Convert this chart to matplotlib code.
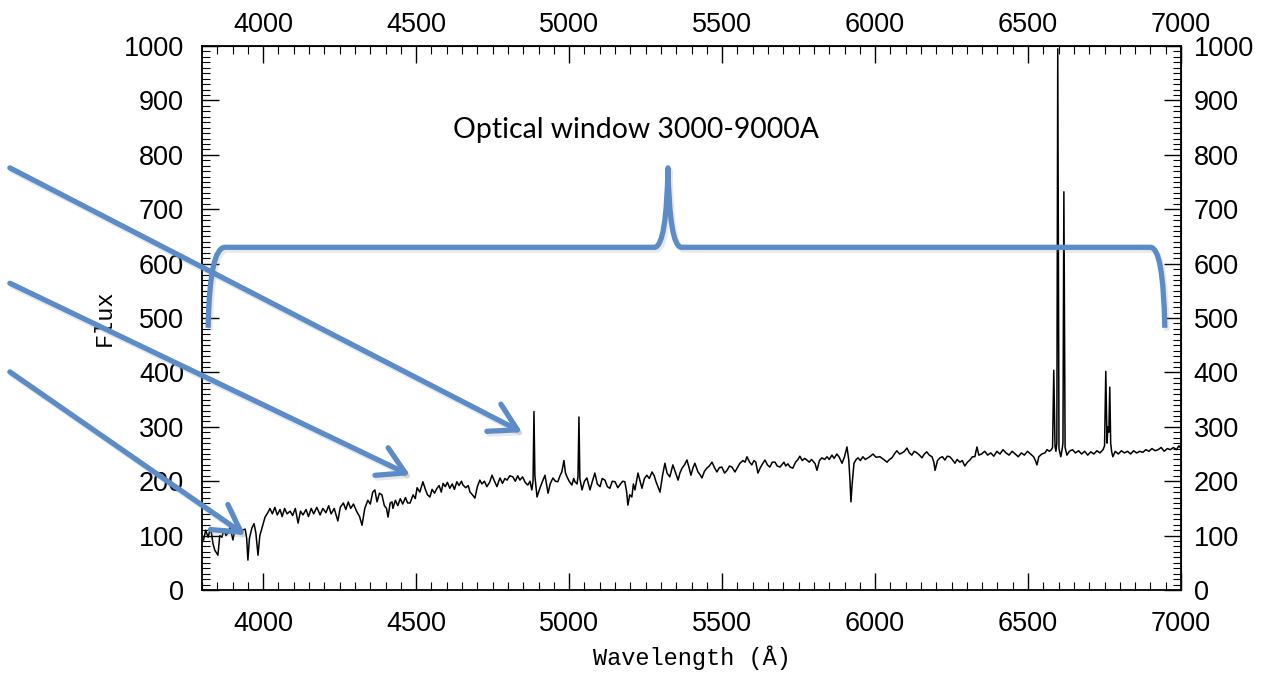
import matplotlib
matplotlib.use("Agg")
import matplotlib.pyplot as plt
import matplotlib.patheffects as pe
from matplotlib.path import Path
from matplotlib.patches import PathPatch
from matplotlib.ticker import FixedLocator, MultipleLocator
import numpy as np

plt.rcParams["font.family"] = "Liberation Sans"
plt.rcParams["font.size"] = 19.5

# spectrum in segments (wavelength in A, flux)
wl_blue = [3805, 3812, 3820, 3828, 3836, 3842, 3852, 3858, 3865, 3872, 3878, 3885, 3892, 3901, 3907,
           3914, 3922, 3931, 3941, 3946, 3950, 3955, 3963, 3970, 3976, 3983, 3989, 3996, 4006, 4016]
flux_blue = [92, 110, 97, 115, 85, 73, 64, 100, 97, 112, 100, 105, 115, 92, 110,
             105, 118, 110, 112, 95, 55, 95, 114, 122, 105, 64, 100, 114, 134, 143]

wl_4000 = [4022, 4030, 4038, 4046, 4055, 4062, 4070, 4078, 4088, 4096, 4105, 4114, 4122, 4130, 4140,
           4148, 4157, 4165, 4175, 4186, 4195, 4205, 4214, 4222, 4232, 4244, 4252, 4262, 4270, 4278,
           4286, 4295, 4305, 4315, 4323, 4332, 4342, 4350, 4358, 4365, 4372, 4380, 4388, 4396, 4403,
           4408, 4415, 4421]
flux_4000 = [150, 140, 152, 138, 148, 135, 150, 140, 145, 137, 150, 123, 145, 138, 148,
             135, 150, 140, 152, 138, 150, 142, 155, 140, 150, 127, 152, 160, 148, 162,
             150, 158, 145, 135, 119, 150, 165, 158, 180, 184, 162, 178, 175, 155, 150,
             134, 160, 162]

wl_4500 = [4424, 4432, 4440, 4448, 4456, 4465, 4472, 4480, 4490, 4497, 4503, 4512, 4522, 4530, 4537,
           4545, 4552, 4560, 4568, 4575, 4582, 4588, 4595, 4602, 4610, 4618, 4625, 4633, 4640, 4648,
           4653, 4662, 4670, 4676, 4684, 4692, 4700, 4708, 4715, 4723, 4731, 4740, 4748, 4756, 4764,
           4770, 4774, 4782, 4790, 4797, 4806, 4816, 4824, 4832, 4839, 4848, 4856, 4865, 4872, 4878,
           4882, 4885, 4888, 4895, 4900, 4905, 4913, 4921, 4926, 4931, 4938, 4947, 4955, 4963, 4970,
           4976, 4983, 4988, 4993, 5000, 5009, 5015, 5019, 5026, 5029, 5032, 5035, 5042, 5050, 5058]
flux_4500 = [150, 165, 155, 168, 158, 170, 160, 160, 175, 168, 188, 180, 199, 185, 175,
             171, 185, 178, 187, 192, 180, 196, 190, 198, 187, 195, 185, 199, 192, 200,
             193, 188, 192, 180, 175, 169, 190, 202, 195, 200, 190, 198, 211, 200, 190,
             200, 206, 196, 205, 202, 210, 208, 200, 210, 202, 208, 198, 193, 200, 184,
             200, 328, 210, 171, 180, 188, 200, 211, 195, 178, 195, 206, 200, 199, 210,
             217, 238, 215, 208, 200, 193, 205, 199, 195, 210, 318, 205, 184, 200, 206]

wl_5000 = [5068, 5076, 5084, 5092, 5101, 5108, 5117, 5125, 5133, 5141, 5150, 5159, 5168, 5175, 5182,
           5188, 5192, 5198, 5205, 5210, 5215, 5225, 5232, 5238, 5246, 5254, 5262, 5271, 5278, 5284,
           5290, 5297, 5305, 5313, 5320, 5329, 5339, 5348, 5356, 5362, 5369, 5377, 5385, 5392, 5398,
           5405, 5411, 5421, 5428, 5434, 5442, 5450, 5458, 5467, 5475, 5483, 5491, 5499, 5508, 5516,
           5524, 5532, 5542, 5550, 5558, 5568, 5575, 5581, 5590, 5597, 5604, 5610, 5617, 5625, 5632,
           5640, 5648, 5656, 5664, 5673, 5680, 5689, 5695, 5702]
flux_5000 = [184, 200, 215, 195, 190, 205, 202, 190, 187, 200, 199, 188, 195, 200, 199,
             180, 156, 175, 171, 195, 184, 215, 200, 187, 205, 211, 205, 217, 210, 199,
             190, 180, 210, 233, 215, 208, 230, 215, 202, 215, 224, 230, 239, 225, 211,
             225, 233, 217, 212, 206, 218, 224, 228, 235, 225, 217, 225, 226, 215, 220,
             228, 226, 217, 225, 233, 238, 235, 245, 235, 230, 238, 235, 215, 225, 232,
             239, 230, 226, 235, 235, 228, 226, 230, 235]

wl_6000 = [5708, 5715, 5722, 5731, 5740, 5748, 5754, 5762, 5770, 5777, 5785, 5792, 5797, 5804, 5810,
           5818, 5826, 5835, 5843, 5850, 5859, 5866, 5875, 5882, 5892, 5900, 5908, 5914, 5918, 5921,
           5925, 5931, 5938, 5944, 5952, 5960, 5968, 5977, 5985, 5993, 6003, 6016, 6028, 6039, 6047,
           6055, 6063, 6071, 6080, 6088, 6096, 6104, 6112, 6120, 6128, 6137, 6145, 6153, 6161, 6169,
           6177, 6186, 6192, 6196, 6204, 6212, 6220, 6228, 6236, 6244, 6252, 6261, 6268, 6277, 6285,
           6293, 6302, 6310, 6318, 6326, 6333, 6339]
flux_6000 = [228, 232, 226, 224, 235, 240, 246, 238, 242, 239, 235, 240, 237, 232, 220,
             238, 243, 240, 245, 240, 248, 242, 250, 245, 233, 245, 263, 239, 200, 162,
             195, 233, 240, 243, 238, 245, 240, 243, 246, 250, 244, 245, 240, 235, 240,
             243, 250, 256, 250, 252, 255, 261, 252, 248, 255, 252, 248, 243, 250, 254,
             248, 245, 235, 220, 238, 243, 245, 239, 246, 245, 240, 233, 240, 235, 238,
             228, 235, 239, 245, 245, 263, 248]

wl_red = [6348, 6358, 6368, 6378, 6388, 6398, 6408, 6418, 6428, 6438, 6448, 6458, 6468, 6478, 6488,
          6498, 6508, 6518, 6524, 6529, 6535, 6545, 6555, 6562, 6570, 6576, 6580, 6584, 6588, 6591,
          6594, 6597, 6601, 6607, 6611, 6614, 6617, 6621, 6627, 6635, 6645, 6655, 6665, 6675, 6685,
          6695, 6705, 6715, 6725, 6735, 6745, 6750, 6754, 6758, 6761, 6764, 6767, 6770, 6773, 6777,
          6785, 6795, 6805, 6815, 6825, 6835, 6845, 6855, 6865, 6875, 6885, 6895, 6905, 6915, 6925,
          6935, 6945, 6955, 6965, 6975, 6985, 6993, 7000]
flux_red = [250, 255, 248, 252, 246, 255, 250, 258, 252, 248, 255, 250, 245, 252, 248,
            255, 250, 245, 238, 230, 245, 250, 252, 258, 255, 258, 262, 404, 265, 255,
            270, 995, 260, 245, 258, 270, 732, 262, 248, 255, 258, 252, 256, 250, 255,
            248, 254, 250, 256, 252, 258, 265, 402, 270, 300, 290, 373, 270, 255, 245,
            255, 250, 256, 252, 255, 250, 256, 252, 255, 253, 258, 255, 260, 256, 258,
            262, 255, 260, 258, 262, 258, 265, 260]

wavelength = np.concatenate([wl_blue, wl_4000, wl_4500, wl_5000, wl_6000, wl_red])
flux = np.concatenate([flux_blue, flux_4000, flux_4500, flux_5000, flux_6000, flux_red])

x_ticks = [4000, 4500, 5000, 5500, 6000, 6500, 7000]
y_ticks = [0, 100, 200, 300, 400, 500, 600, 700, 800, 900, 1000]

# overlay: bracket over the optical window and three pointer arrows (data coords)
brace_pts = [(3820, 482), (3825, 630), (3875, 630), (5280, 630), (5318, 633), (5323, 776),
             (5328, 633), (5366, 630), (6900, 630), (6942, 630), (6947, 482)]
brace_codes = [Path.MOVETO, Path.CURVE3, Path.CURVE3, Path.LINETO, Path.CURVE3, Path.CURVE3,
               Path.CURVE3, Path.CURVE3, Path.LINETO, Path.CURVE3, Path.CURVE3]
arrow_tails = [(3172, 776), (3172, 564), (3172, 401)]
arrow_heads = [(4846, 290), (4480, 211), (3941, 101)]
label_text = "Optical window 3000-9000A"
blue = "#5b8cc8"

fig = plt.figure(figsize=(12.61, 6.76), dpi=100)
ax = fig.add_axes([0.1602, 0.1272, 0.7764, 0.8047])
ax.plot(wavelength, flux, color="black", lw=1.1)
ax.set_xlim(3800, 7000)
ax.set_ylim(0, 1000)


def style_ticks(axis, ticks, minor_step, pad):
    axis.set_major_locator(FixedLocator(ticks))
    axis.set_minor_locator(MultipleLocator(minor_step))
    axis.set_tick_params(which="both", direction="in", pad=pad)
    axis.set_tick_params(which="major", length=12, width=1)
    axis.set_tick_params(which="minor", length=6, width=0.8)


style_ticks(ax.xaxis, x_ticks, 50, 15)
style_ticks(ax.yaxis, y_ticks, 10, 13)
ax.tick_params(which="both", top=False, right=False)
for s in ax.spines.values():
    s.set_linewidth(1.3)

top = ax.secondary_xaxis("top")
style_ticks(top.xaxis, x_ticks, 50, 6)
right = ax.secondary_yaxis("right")
style_ticks(right.yaxis, y_ticks, 10, 9)

ax.set_xlabel("Wavelength (Å)", family="Liberation Mono", fontsize=17, labelpad=6)
ax.set_ylabel("Flux", family="Liberation Mono", fontsize=17, labelpad=6)

shadow = [pe.SimpleLineShadow(offset=(1.5, -2), shadow_color="0.55", alpha=0.2), pe.Normal()]

brace = PathPatch(Path(brace_pts, brace_codes), facecolor="none", edgecolor=blue,
                  lw=3.8, capstyle="butt", joinstyle="round", clip_on=False, zorder=5)
brace.set_path_effects(shadow)
ax.add_patch(brace)

for tail, head in zip(arrow_tails, arrow_heads):
    ax.annotate("", xy=head, xytext=tail, xycoords="data", textcoords="data",
                annotation_clip=False,
                arrowprops=dict(arrowstyle="->,head_length=0.95,head_width=0.55", color=blue,
                                lw=3.8, shrinkA=0, shrinkB=0, mutation_scale=20,
                                path_effects=shadow),
                zorder=5)

ax.text(5218, 845, label_text, family="Lato", fontsize=20.4, ha="center", va="center")

fig.savefig("out.png", dpi=100)
